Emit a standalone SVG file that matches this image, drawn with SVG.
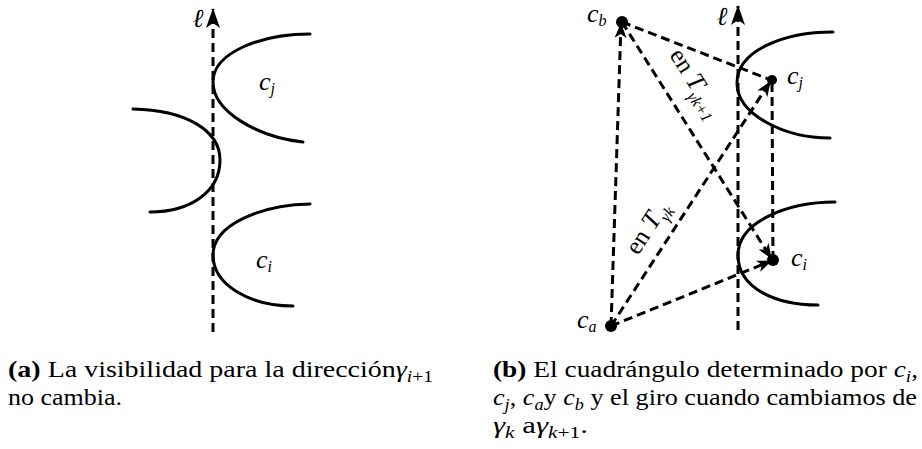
<svg xmlns="http://www.w3.org/2000/svg" width="922" height="449" viewBox="0 0 922 449">
<style>
.curve{fill:none;stroke:#000;stroke-width:3;stroke-linecap:round}
.dash{fill:none;stroke:#000;stroke-width:3;stroke-dasharray:9 5}
.m{font-family:"Liberation Serif","DejaVu Serif",serif;font-style:italic;font-size:26px;fill:#000}
.sub{font-size:16px}
.lab{font-family:"Liberation Serif","DejaVu Serif",serif;font-size:25px;fill:#000}
.cap{font-family:"Liberation Serif","DejaVu Serif",serif;font-size:23px;fill:#000}
.pt{fill:#000}
</style>
<defs>
<marker id="axis" viewBox="0 0 20 14" refX="19" refY="7" markerWidth="20" markerHeight="14" markerUnits="userSpaceOnUse" orient="auto"><path d="M0,0 L20,7 L0,14 L5,7 Z" fill="#000"/></marker>
<marker id="ah" viewBox="0 0 15 12" refX="14" refY="6" markerWidth="15" markerHeight="12" markerUnits="userSpaceOnUse" orient="auto"><path d="M0,0 L15,6 L0,12 L4,6 Z" fill="#000"/></marker>
</defs>

<!-- Figure (a) -->
<g id="a-axis">
<path class="dash" d="M213,332 L213,9" marker-end="url(#axis)"/>
<text class="m" x="198" y="27" text-anchor="middle">ℓ</text>
</g>
<g id="a-cj">
<path class="curve" d="M310,34 C262,34 213,52 213,82 C213,112 258,137 303,142"/>
<text class="m" x="259" y="90">c<tspan class="sub" dy="4">j</tspan></text>
</g>
<g id="a-mid">
<path class="curve" d="M133,109 C185,110 220,130 220,160 C220,192 190,212 150,212"/>
</g>
<g id="a-ci">
<path class="curve" d="M310,204 C260,205 213,225 213,255 C213,285 250,306 293,306"/>
<text class="m" x="256" y="268">c<tspan class="sub" dy="4">i</tspan></text>
</g>

<!-- Figure (b) -->
<g id="b-axis">
<path class="dash" d="M738,330 L738,6" marker-end="url(#axis)"/>
<text class="m" x="722" y="25" text-anchor="middle">ℓ</text>
</g>
<g id="b-cj-curve">
<path class="curve" d="M833,32 C785,32 737,50 737,83 C737,115 785,138 830,138"/>
</g>
<g id="b-ci-curve">
<path class="curve" d="M835,202 C787,202 738,222 738,255 C738,288 775,305 818,305"/>
</g>

<g id="connectors">
<path class="dash" d="M611,326 L621,24" marker-end="url(#ah)"/>
<path class="dash" d="M622,22 L771,80"/>
<path class="dash" d="M622,22 L771,258" marker-end="url(#ah)"/>
<path class="dash" d="M611,326 L770,82" marker-end="url(#ah)"/>
<path class="dash" d="M611,326 L771,261" marker-end="url(#ah)"/>
<path class="dash" d="M773,260 L772,82"/>
<text class="lab" transform="translate(669,55) rotate(57.6)">en <tspan class="m" font-size="30">T</tspan><tspan class="m sub" dy="7" font-size="17">γk+1</tspan></text>
<text class="lab" transform="translate(638,256) rotate(-57)">en <tspan class="m" font-size="30">T</tspan><tspan class="m sub" dy="7" font-size="17">γk</tspan></text>
</g>

<g id="b-cb">
<circle class="pt" cx="622" cy="22" r="6"/>
<text class="m" x="587" y="22">c<tspan class="sub" dy="4">b</tspan></text>
</g>
<g id="b-cj">
<circle class="pt" cx="772" cy="80" r="5"/>
<text class="m" x="787" y="84">c<tspan class="sub" dy="4">j</tspan></text>
</g>
<g id="b-ci">
<circle class="pt" cx="773" cy="260" r="6"/>
<text class="m" x="791" y="266">c<tspan class="sub" dy="4">i</tspan></text>
</g>
<g id="b-ca">
<circle class="pt" cx="611" cy="326" r="6"/>
<text class="m" x="577" y="328">c<tspan class="sub" dy="4">a</tspan></text>
</g>

<!-- Captions -->
<g id="caption-a">
<text class="cap" x="8" y="377" textLength="425" lengthAdjust="spacingAndGlyphs"><tspan font-weight="bold">(a)</tspan> La visibilidad para la dirección<tspan font-style="italic">γ</tspan><tspan font-size="16" font-style="italic" dy="5">i</tspan><tspan font-size="16">+1</tspan></text>
<text class="cap" x="8" y="405" textLength="114" lengthAdjust="spacingAndGlyphs">no cambia.</text>
</g>
<g id="caption-b">
<text class="cap" x="493" y="377" textLength="425" lengthAdjust="spacingAndGlyphs"><tspan font-weight="bold">(b)</tspan> El cuadrángulo determinado por <tspan font-style="italic">c</tspan><tspan font-size="16" font-style="italic" dy="5">i</tspan><tspan dy="-5">,</tspan></text>
<text class="cap" x="493" y="405" textLength="424" lengthAdjust="spacingAndGlyphs"><tspan font-style="italic">c</tspan><tspan font-size="16" font-style="italic" dy="5">j</tspan><tspan dy="-5">, </tspan><tspan font-style="italic">c</tspan><tspan font-size="16" font-style="italic" dy="5">a</tspan><tspan dy="-5">y </tspan><tspan font-style="italic">c</tspan><tspan font-size="16" font-style="italic" dy="5">b</tspan><tspan dy="-5"> y el giro cuando cambiamos de</tspan></text>
<text class="cap" x="493" y="433" textLength="95" lengthAdjust="spacingAndGlyphs"><tspan font-style="italic">γ</tspan><tspan font-size="16" font-style="italic" dy="5">k</tspan><tspan dy="-5"> a</tspan><tspan font-style="italic">γ</tspan><tspan font-size="16" font-style="italic" dy="5">k</tspan><tspan font-size="16">+1</tspan><tspan dy="-5">.</tspan></text>
</g>
</svg>
